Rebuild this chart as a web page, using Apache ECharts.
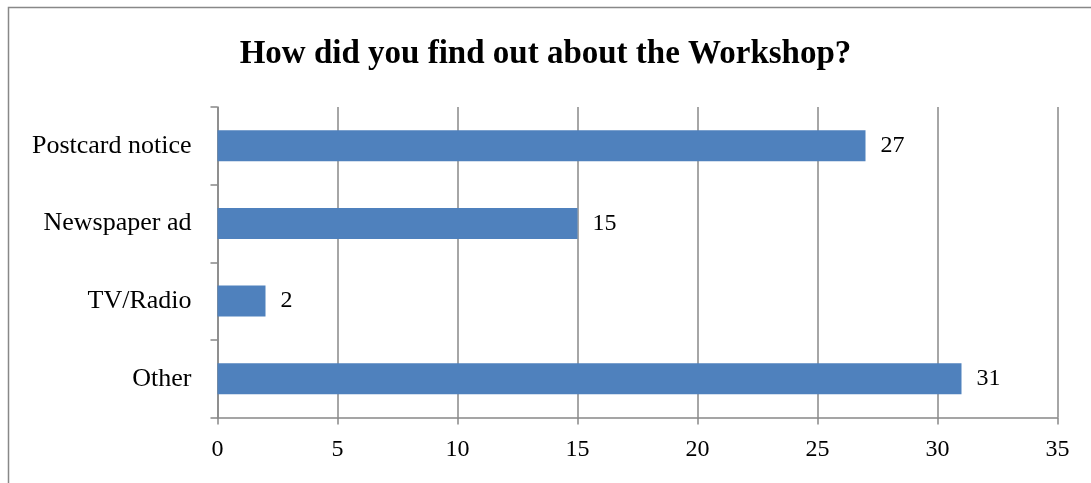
<!DOCTYPE html>
<html lang="en">
<head>
    <meta charset="UTF-8">
    <title>Workshop</title>
    <script src="https://cdn.jsdelivr.net/npm/echarts@6/dist/echarts.min.js"></script>
    <style>
        html, body { margin: 0; padding: 0; background: #fff; }
    </style>
</head>
<body>
<div id="main" style="width:1091px;height:483px;"></div>
<script type="text/javascript">
    var categories = ['Other', 'TV/Radio', 'Newspaper ad', 'Postcard notice'];
    var counts = [31, 2, 15, 27];
    var xTicks = [0, 5, 10, 15, 20, 25, 30, 35];

    var font = '"Liberation Serif", "Times New Roman", serif';
    var myChart = echarts.init(document.getElementById('main'));

    var option = {
        animation: false,
        title: {
            text: 'How did you find out about the Workshop?',
            left: 'center',
            top: 33,
            textStyle: {
                fontFamily: font,
                fontSize: 33,
                fontWeight: 'bold',
                color: '#000'
            }
        },
        graphic: [{
            type: 'rect',
            shape: { x: 8.5, y: 7.5, width: 1200, height: 600 },
            style: { fill: 'none', stroke: '#888', lineWidth: 1.5 },
            silent: true
        }],
        grid: {
            left: 217.5,
            right: 33.5,
            top: 107,
            bottom: 65.5
        },
        xAxis: {
            type: 'value',
            min: xTicks[0],
            max: xTicks[xTicks.length - 1],
            interval: 5,
            axisLine: { show: true, lineStyle: { color: '#888', width: 1.5 } },
            axisTick: { show: true, length: 7, lineStyle: { color: '#888', width: 1.5 } },
            axisLabel: {
                margin: 20,
                fontFamily: font,
                fontSize: 24,
                color: '#000'
            },
            splitLine: { show: true, lineStyle: { color: '#888', width: 1.5 } }
        },
        yAxis: {
            type: 'category',
            data: categories,
            axisLine: { show: true, lineStyle: { color: '#888', width: 1.5 } },
            axisTick: { show: true, length: 7, alignWithLabel: false, lineStyle: { color: '#888', width: 1.5 } },
            axisLabel: {
                margin: 26,
                fontFamily: font,
                fontSize: 26,
                color: '#000'
            }
        },
        series: [{
            type: 'bar',
            data: counts,
            barWidth: 31,
            itemStyle: { color: '#4F81BD' },
            label: {
                show: true,
                position: 'right',
                distance: 15,
                fontFamily: font,
                fontSize: 24,
                color: '#000'
            }
        }]
    };

    myChart.setOption(option);
</script>
</body>
</html>
